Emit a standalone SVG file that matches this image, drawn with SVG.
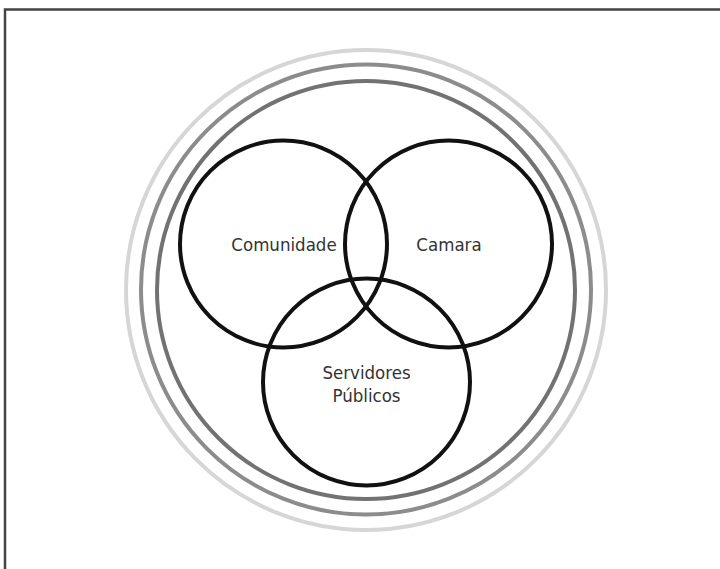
<svg xmlns="http://www.w3.org/2000/svg" width="720" height="569" viewBox="0 0 720 569">
  <style>
    .ring { fill: none; stroke-width: 4; }
    .set { fill: none; stroke: #111111; stroke-width: 4; }
    .label { font-family: "DejaVu Sans Condensed", "Liberation Sans", Arial, sans-serif; font-stretch: condensed; font-size: 18.5px; fill: #333333; text-anchor: middle; }
  </style>
  <rect x="0" y="0" width="720" height="569" fill="#ffffff"/>
  <g id="frame" fill="none" stroke="#444444" stroke-width="2.5">
    <path d="M5,569 V9.5 H720"/>
  </g>
  <g id="rings">
    <circle class="ring" cx="366" cy="290" r="240" stroke="#d6d6d6"/>
    <circle class="ring" cx="366" cy="289.5" r="225" stroke="#8c8c8c"/>
    <circle class="ring" cx="366" cy="290" r="209" stroke="#727272"/>
  </g>
  <g id="comunidade">
    <circle class="set" cx="283.5" cy="244" r="103.5"/>
    <text class="label" x="284" y="251">Comunidade</text>
  </g>
  <g id="camara">
    <circle class="set" cx="448.5" cy="244" r="103.5"/>
    <text class="label" x="449" y="251">Camara</text>
  </g>
  <g id="servidores">
    <circle class="set" cx="366.5" cy="382" r="103.5"/>
    <text class="label" x="366.5" y="379">Servidores</text>
    <text class="label" x="366.5" y="402">Públicos</text>
  </g>
  <g id="connectors"/>
</svg>
